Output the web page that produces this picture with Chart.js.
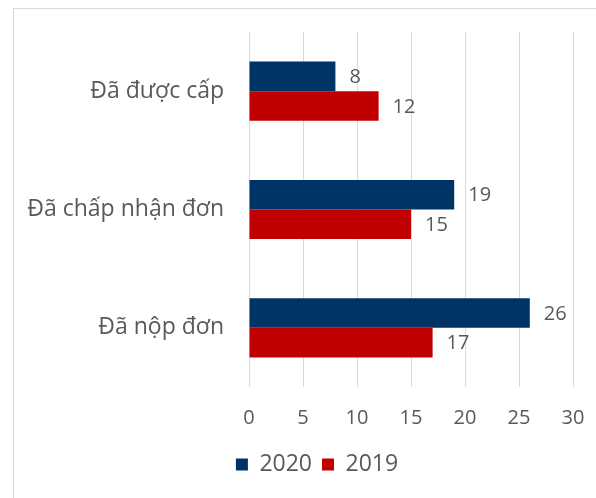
<!DOCTYPE html>
<html>
<head>
<meta charset="utf-8">
<script src="https://cdn.jsdelivr.net/npm/chart.js@4"></script>
<style>
  html, body { margin: 0; padding: 0; background: #fff; }
  #wrap { position: relative; width: 596px; height: 498px; overflow: hidden; }
  #frame {
    position: absolute; left: 13px; top: 8px; right: -2px; bottom: -2px;
    border-top: 1px solid #d9d9d9; border-left: 1px solid #d9d9d9;
  }
  canvas { position: absolute; left: 0; top: 0; }
</style>
</head>
<body>
<div id="wrap">
  <div id="frame"></div>
  <canvas id="chart" width="596" height="498"></canvas>
</div>
<script>
const categories = ['Đã được cấp', 'Đã chấp nhận đơn', 'Đã nộp đơn'];
const values2020 = [8, 19, 26];
const values2019 = [12, 15, 17];
const xTicks = [0, 5, 10, 15, 20, 25, 30];

const textColor = '#595959';
const fontFamily = '"Open Sans", "Liberation Sans", Arial, sans-serif';

// value labels to the right of each bar
const barLabels = {
  id: 'barLabels',
  afterDatasetsDraw(chart) {
    const { ctx } = chart;
    ctx.save();
    ctx.fillStyle = textColor;
    ctx.font = `20px ${fontFamily}`;
    ctx.textAlign = 'left';
    ctx.textBaseline = 'middle';
    chart.data.datasets.forEach((ds, i) => {
      chart.getDatasetMeta(i).data.forEach((bar, j) => {
        ctx.fillText(ds.data[j], bar.x + 14, bar.y + 1);
      });
    });
    ctx.restore();
  },
};

// legend sits a bit right of the canvas centre, under the plot
const legendShift = {
  id: 'legendShift',
  afterLayout(chart) {
    chart.legend.left += 24;
    chart.legend.right += 24;
  },
};

new Chart(document.getElementById('chart'), {
  type: 'bar',
  data: {
    labels: categories,
    datasets: [
      {
        label: '2020',
        data: values2020,
        backgroundColor: '#003366',
        borderWidth: 0,
        categoryPercentage: 0.5,
        barPercentage: 1,
      },
      {
        label: '2019',
        data: values2019,
        backgroundColor: '#c00000',
        borderWidth: 0,
        categoryPercentage: 0.5,
        barPercentage: 1,
      },
    ],
  },
  plugins: [barLabels, legendShift],
  options: {
    indexAxis: 'y',
    responsive: false,
    animation: false,
    devicePixelRatio: 1,
    layout: { padding: { top: 32, right: 23, bottom: 12, left: 13 } },
    plugins: {
      tooltip: { enabled: false },
      legend: {
        position: 'bottom',
        labels: {
          color: textColor,
          font: { family: fontFamily, size: 23 },
          boxWidth: 12,
          boxHeight: 12,
          padding: 10,
        },
      },
    },
    scales: {
      x: {
        min: 0,
        max: 30,
        afterBuildTicks(axis) {
          axis.ticks = xTicks.map((v) => ({ value: v }));
        },
        afterFit(axis) {
          axis.height = 56;
          axis.paddingLeft = 0;
          axis.paddingRight = 0;
        },
        border: { display: false },
        grid: { color: '#d9d9d9', lineWidth: 1, drawTicks: false },
        ticks: {
          color: textColor,
          padding: 19,
          font: { family: fontFamily, size: 20 },
        },
      },
      y: {
        afterFit(axis) {
          axis.width = 236;
          axis.paddingTop = 0;
          axis.paddingBottom = 0;
        },
        border: { display: false },
        grid: { display: false, drawTicks: false },
        ticks: {
          color: textColor,
          padding: 25,
          font: { family: fontFamily, size: 23 },
        },
      },
    },
  },
});
</script>
</body>
</html>
